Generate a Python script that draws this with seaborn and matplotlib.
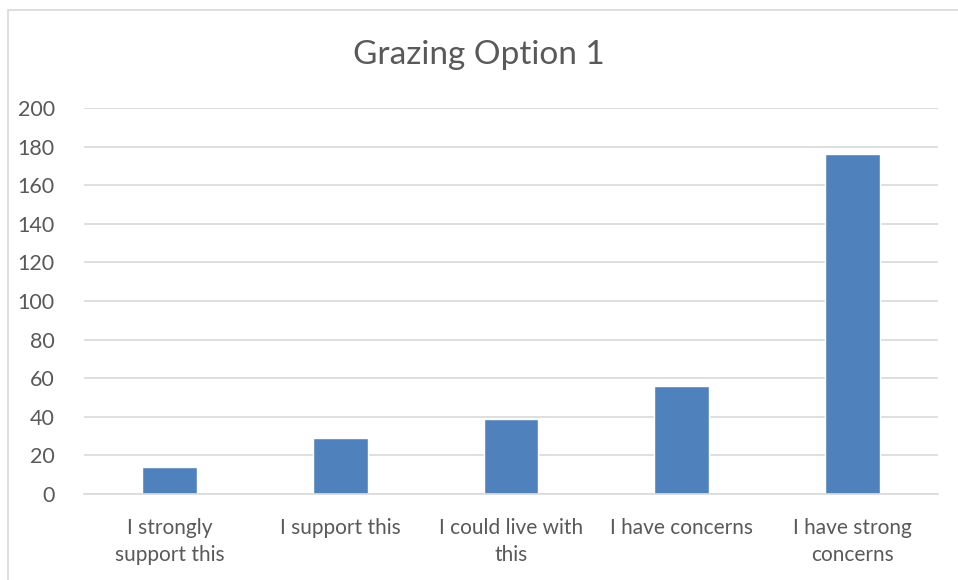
import matplotlib
matplotlib.use("Agg")
import matplotlib.pyplot as plt
import seaborn as sns
import pandas as pd
from matplotlib.patches import Rectangle

categories = ["I strongly\nsupport this", "I support this", "I could live with\nthis",
              "I have concerns", "I have strong\nconcerns"]
counts = [14, 29, 39, 56, 176]
yticks = [0, 20, 40, 60, 80, 100, 120, 140, 160, 180, 200]

df = pd.DataFrame({"answer": categories, "count": counts})

sns.set_style("white")
plt.rcParams["font.family"] = ["Lato", "DejaVu Sans"]

fig = plt.figure(figsize=(9.58, 5.8), dpi=100)
ax = fig.add_axes([84 / 958, 1 - 494 / 580, 854 / 958, 386 / 580])

sns.barplot(data=df, x="answer", y="count", color="#4f81bd", width=0.32,
            saturation=1, ax=ax)

ax.set_ylim(0, 200)
ax.set_yticks(yticks)
ax.set_xlim(-0.5, len(categories) - 0.5)
ax.grid(axis="y", color="#d9d9d9", linewidth=1.2)
ax.set_axisbelow(True)
for s in ["left", "right", "top"]:
    ax.spines[s].set_visible(False)
ax.spines["bottom"].set_color("#d9d9d9")
ax.spines["bottom"].set_linewidth(1.2)
ax.tick_params(axis="y", length=0, pad=21, labelsize=15.5, labelcolor="#595959")
ax.tick_params(axis="x", length=0, pad=17, labelsize=15, labelcolor="#595959")
for lbl in ax.get_xticklabels():
    lbl.set_linespacing(1.45)
ax.set_xlabel("")
ax.set_ylabel("")

fig.text(0.5, 1 - 55 / 580, "Grazing Option 1", ha="center", va="center",
         fontsize=24, color="#595959")

# thin chart border like the spreadsheet chart area
fig.patches.append(Rectangle((8 / 958, -0.05), 1.2, 1 - 10 / 580 + 0.05,
                             transform=fig.transFigure, fill=False,
                             edgecolor="#d9d9d9", linewidth=1.2))

fig.savefig("out.png", dpi=100)
